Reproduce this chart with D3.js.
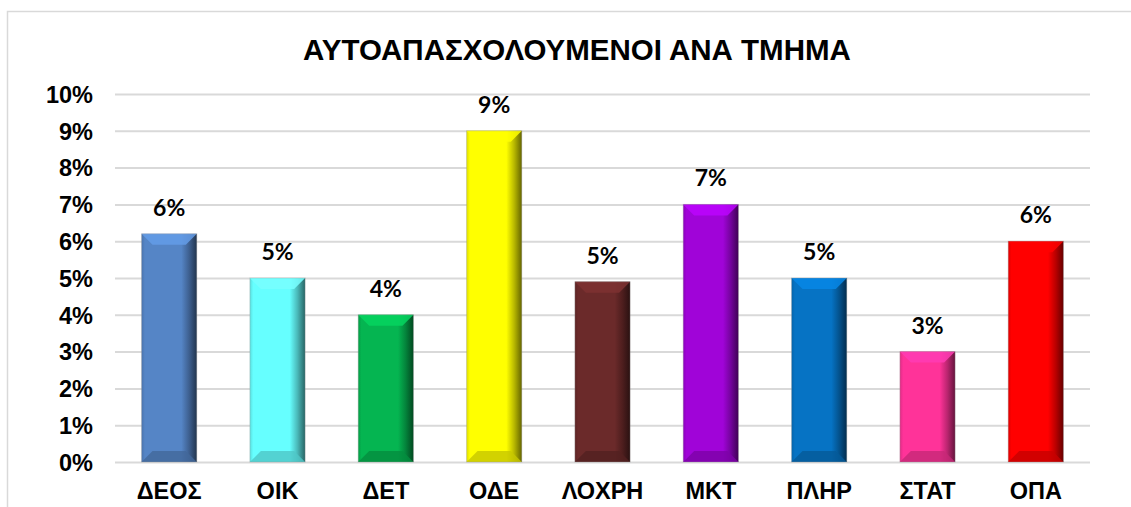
<!DOCTYPE html>
<html><head><meta charset="utf-8">
<script src="https://cdn.jsdelivr.net/npm/d3@7"></script>
<style>body{margin:0;background:#fff}svg{display:block}</style>
</head><body>
<svg id="c" width="1131" height="507"></svg>
<script>
const categories = ["ΔΕΟΣ","ΟΙΚ","ΔΕΤ","ΟΔΕ","ΛΟΧΡΗ","ΜΚΤ","ΠΛΗΡ","ΣΤΑΤ","ΟΠΑ"];
const values = [6.2, 5.0, 4.0, 9.0, 4.9, 7.0, 5.0, 3.0, 6.0];
const labels = ["6%","5%","4%","9%","5%","7%","5%","3%","6%"];
const colors = ["#5585c6","#66ffff","#05b551","#ffff00","#6b2a2a","#a004d8","#0673c4","#ff3399","#ff0000"];
const yTicks = [0,1,2,3,4,5,6,7,8,9,10];
const title = "ΑΥΤΟΑΠΑΣΧΟΛΟΥΜΕΝΟΙ ΑΝΑ ΤΜΗΜΑ";

const svg = d3.select("#c");
const W = 1131, H = 507;
const m = {left:115, right:1090, top:94, bottom:462};

svg.append("path").attr("d",`M7.5,${H} L7.5,11.5 L${W},11.5`)
  .attr("fill","none").attr("stroke","#d9d9d9").attr("stroke-width",1.5);

const x = d3.scaleBand().domain(categories).range([m.left,m.right]).paddingInner(0.49).paddingOuter(0.245);
const y = d3.scaleLinear().domain([0,10]).range([m.bottom,m.top]);

svg.append("text").attr("x",577).attr("y",60).attr("text-anchor","middle")
  .attr("font-family","Liberation Sans, Arial, sans-serif").attr("font-weight","bold")
  .attr("font-size",29.5).attr("fill","#000").text(title);

const yAxis = d3.axisLeft(y).tickValues(yTicks).tickSize(-(m.right-m.left)).tickFormat(d=>d+"%").tickPadding(22);
const ga = svg.append("g").attr("transform",`translate(${m.left},0)`).call(yAxis);
ga.select(".domain").remove();
ga.selectAll(".tick line").attr("stroke","#d9d9d9").attr("stroke-width",2);
ga.selectAll(".tick text").attr("font-family","Liberation Sans, Arial, sans-serif")
  .attr("font-weight","bold").attr("font-size",23.5).attr("fill","#000").attr("dy","0.35em");

const xAxis = d3.axisBottom(x).tickSize(0).tickPadding(20);
const gx = svg.append("g").attr("transform",`translate(0,${m.bottom})`).call(xAxis);
gx.select(".domain").remove();
gx.selectAll(".tick text").attr("font-family","Liberation Sans, Arial, sans-serif")
  .attr("font-weight","bold").attr("font-size",23.5).attr("fill","#000");

const defs = svg.append("defs");
categories.forEach((c,i)=>{
  const col = d3.color(colors[i]);
  const g = defs.append("linearGradient").attr("id","g"+i).attr("x1","0").attr("x2","1").attr("y1","0").attr("y2","0");
  g.append("stop").attr("offset","0").attr("stop-color",col.darker(0.4));
  g.append("stop").attr("offset","0.06").attr("stop-color",col);
  g.append("stop").attr("offset","0.72").attr("stop-color",col);
  g.append("stop").attr("offset","0.86").attr("stop-color",col.darker(0.9));
  g.append("stop").attr("offset","1").attr("stop-color",col.darker(2.6));
});

const bv = 11;
const bars = svg.append("g").selectAll("g").data(categories).join("g");
bars.each(function(c,i){
  const g = d3.select(this);
  const x0 = x(c), w = x.bandwidth(), y0 = y(values[i]), y1 = y(0), col = d3.color(colors[i]);
  g.append("rect").attr("x",x0).attr("y",y0).attr("width",w).attr("height",y1-y0)
    .attr("fill",`url(#g${i})`);
  g.append("path").attr("d",`M${x0},${y0} L${x0+w},${y0} L${x0+w-bv},${y0+bv} L${x0+bv},${y0+bv} Z`)
    .attr("fill",col.brighter(0.45)).attr("opacity",0.85);
  g.append("path").attr("d",`M${x0},${y1} L${x0+w},${y1} L${x0+w-bv},${y1-bv} L${x0+bv},${y1-bv} Z`)
    .attr("fill",col.darker(0.7)).attr("opacity",0.8);
  g.append("rect").attr("x",x0).attr("y",y0).attr("width",w).attr("height",y1-y0)
    .attr("fill","none").attr("stroke","#999").attr("stroke-opacity",0.35).attr("stroke-width",1);
  g.append("text").attr("x",x0+w/2).attr("y",y0-18).attr("text-anchor","middle")
    .attr("font-family","Lato, 'Open Sans', sans-serif").attr("font-weight","bold")
    .attr("font-size",23).attr("fill","#000").text(labels[i]);
});
</script>
</body></html>
